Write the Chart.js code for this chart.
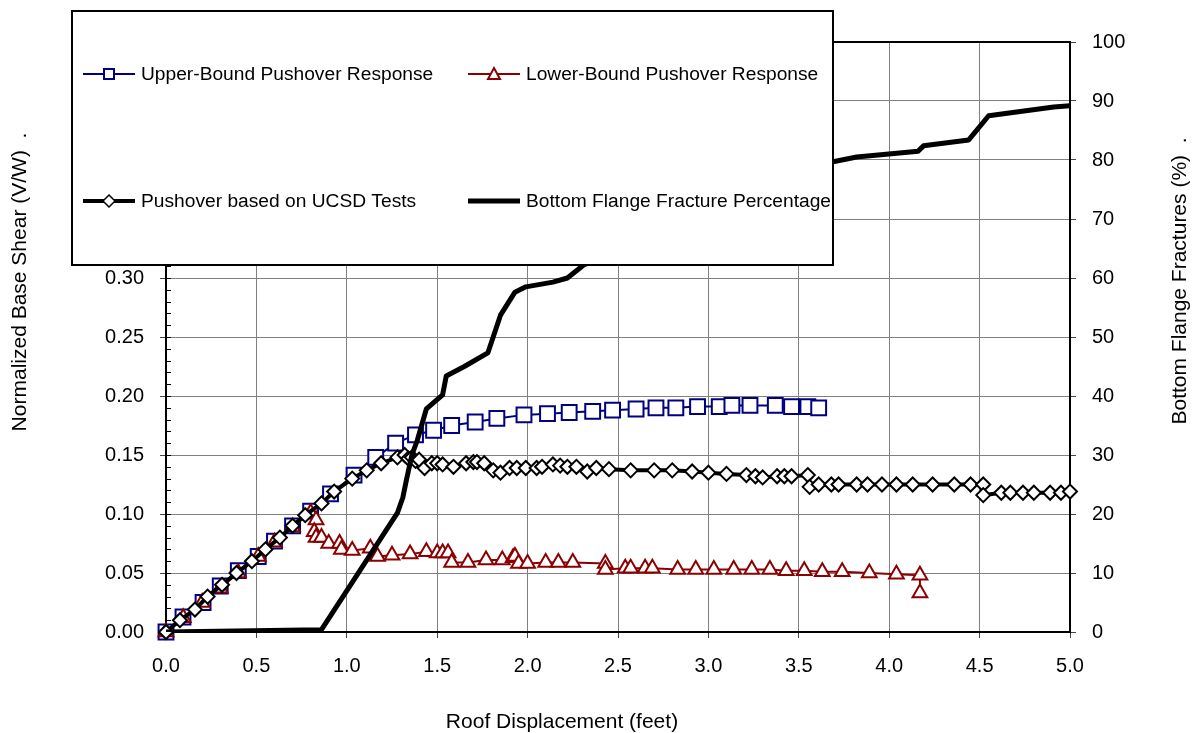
<!DOCTYPE html>
<html>
<head>
<meta charset="utf-8">
<script src="https://cdn.jsdelivr.net/npm/chart.js@4.4.0/dist/chart.umd.min.js"></script>
<style>
  html, body { margin: 0; padding: 0; background: #fff; }
  #chart { display: block; }
</style>
</head>
<body>
<canvas id="chart" width="1193" height="733"></canvas>
<script>
// roof displacement (ft) / normalized base shear (V/W)
const upperX = [0, 0.094, 0.205, 0.30, 0.40, 0.51, 0.60, 0.70, 0.80, 0.91, 1.04, 1.16, 1.27, 1.38, 1.48, 1.58, 1.71, 1.83, 1.98, 2.11, 2.23, 2.36, 2.47, 2.60, 2.71, 2.82, 2.94, 3.06, 3.13, 3.23, 3.37, 3.46, 3.55, 3.61];
const upperY = [0, 0.0127, 0.025, 0.039, 0.052, 0.064, 0.077, 0.090, 0.1025, 0.117, 0.133, 0.148, 0.160, 0.167, 0.171, 0.175, 0.178, 0.181, 0.184, 0.185, 0.186, 0.187, 0.188, 0.189, 0.190, 0.190, 0.191, 0.191, 0.192, 0.192, 0.192, 0.191, 0.191, 0.190];

const lowerX = [0, 0.095, 0.20, 0.30, 0.40, 0.51, 0.60, 0.70, 0.80, 0.83, 0.82, 0.83, 0.86, 0.90, 0.96, 0.97, 1.03, 1.13, 1.17, 1.25, 1.35, 1.44, 1.50, 1.53, 1.56, 1.58, 1.67, 1.77, 1.86, 1.92, 1.93, 1.95, 2.00, 2.10, 2.17, 2.25, 2.43, 2.43, 2.54, 2.57, 2.65, 2.69, 2.83, 2.93, 3.03, 3.14, 3.24, 3.34, 3.43, 3.53, 3.63, 3.74, 3.89, 4.04, 4.17, 4.17];
const lowerY = [0, 0.012, 0.025, 0.037, 0.050, 0.064, 0.076, 0.089, 0.101, 0.095, 0.085, 0.080, 0.080, 0.075, 0.075, 0.070, 0.069, 0.071, 0.064, 0.065, 0.066, 0.068, 0.067, 0.067, 0.067, 0.059, 0.059, 0.061, 0.061, 0.063, 0.064, 0.058, 0.058, 0.059, 0.059, 0.059, 0.058, 0.053, 0.054, 0.054, 0.054, 0.054, 0.053, 0.053, 0.053, 0.053, 0.053, 0.053, 0.052, 0.052, 0.051, 0.051, 0.050, 0.049, 0.048, 0.033];

const ucsdX = [0, 0.077, 0.16, 0.23, 0.31, 0.39, 0.475, 0.55, 0.63, 0.70, 0.77, 0.86, 0.93, 1.03, 1.11, 1.19, 1.28, 1.32, 1.34, 1.36, 1.38, 1.40, 1.43, 1.47, 1.50, 1.53, 1.59, 1.66, 1.70, 1.72, 1.76, 1.81, 1.85, 1.90, 1.94, 1.99, 2.05, 2.08, 2.14, 2.18, 2.22, 2.27, 2.33, 2.38, 2.45, 2.57, 2.70, 2.80, 2.91, 3.00, 3.10, 3.21, 3.26, 3.30, 3.38, 3.42, 3.46, 3.55, 3.56, 3.61, 3.68, 3.72, 3.82, 3.88, 3.96, 4.04, 4.13, 4.24, 4.36, 4.45, 4.52, 4.52, 4.62, 4.67, 4.74, 4.80, 4.89, 4.95, 5.00];
const ucsdY = [0, 0.010, 0.019, 0.030, 0.040, 0.050, 0.060, 0.070, 0.080, 0.090, 0.099, 0.109, 0.119, 0.130, 0.137, 0.143, 0.148, 0.150, 0.147, 0.148, 0.145, 0.146, 0.139, 0.143, 0.143, 0.142, 0.140, 0.143, 0.144, 0.144, 0.143, 0.137, 0.135, 0.139, 0.139, 0.139, 0.139, 0.140, 0.142, 0.141, 0.140, 0.140, 0.136, 0.139, 0.138, 0.137, 0.137, 0.137, 0.136, 0.135, 0.134, 0.133, 0.132, 0.131, 0.132, 0.132, 0.132, 0.133, 0.123, 0.125, 0.125, 0.125, 0.125, 0.125, 0.125, 0.125, 0.125, 0.125, 0.125, 0.125, 0.125, 0.116, 0.118, 0.118, 0.118, 0.118, 0.118, 0.118, 0.119];

// bottom flange fractures (%)
const fractureX = [0, 0.86, 1.28, 1.31, 1.33, 1.36, 1.39, 1.44, 1.53, 1.55, 1.65, 1.78, 1.85, 1.93, 1.99, 2.14, 2.22, 2.31, 3.69, 3.82, 4.16, 4.19, 4.44, 4.55, 4.91, 5.00];
const fracturePct = [0, 0.4, 20.2, 22.8, 25.8, 30, 32.5, 37.8, 40.2, 43.4, 45, 47.3, 53.7, 57.6, 58.5, 59.3, 60, 62.2, 79.7, 80.5, 81.5, 82.4, 83.4, 87.5, 89, 89.2];

const xTickLabels = ['0.0', '0.5', '1.0', '1.5', '2.0', '2.5', '3.0', '3.5', '4.0', '4.5', '5.0'];
const shearTickLabels = ['0.00', '0.05', '0.10', '0.15', '0.20', '0.25', '0.30', '0.35', '0.40', '0.45', '0.50'];
const pctTickLabels = ['0', '10', '20', '30', '40', '50', '60', '70', '80', '90', '100'];

const FONT = "Arial, 'Liberation Sans', sans-serif";
const NAVY = '#000080';
const MAROON = '#8b0000';

function toPoints(xs, ys) {
    return xs.map((x, i) => ({ x: x, y: ys[i] }));
}

// minor ticks, frame, axis titles and the boxed legend
const decorations = {
    id: 'decorations',
    beforeDatasetsDraw(chart) {
        const ctx = chart.ctx;
        const area = chart.chartArea;
        const yScale = chart.scales.y;
        ctx.save();
        ctx.strokeStyle = '#000';
        ctx.lineWidth = 1;
        for (let v = 0; v <= 0.5001; v += 0.01) {
            const py = Math.round(yScale.getPixelForValue(v)) + 0.5;
            ctx.beginPath();
            ctx.moveTo(area.left, py);
            ctx.lineTo(area.left + 5, py);
            ctx.stroke();
        }
        ctx.lineWidth = 2;
        ctx.strokeRect(area.left, area.top, area.right - area.left, area.bottom - area.top);
        ctx.restore();
    },
    afterDraw(chart) {
        const ctx = chart.ctx;
        ctx.save();
        ctx.fillStyle = '#000';
        ctx.font = '21px ' + FONT;
        ctx.textAlign = 'center';
        ctx.textBaseline = 'middle';
        ctx.fillText('Roof Displacement (feet)', 562, 722);

        ctx.save();
        ctx.translate(20, 282);
        ctx.rotate(-Math.PI / 2);
        ctx.fillText('Normalized Base Shear (V/W)  .', 0, 0);
        ctx.restore();

        ctx.save();
        ctx.translate(1180, 281);
        ctx.rotate(-Math.PI / 2);
        ctx.fillText('Bottom Flange Fractures (%)  .', 0, 0);
        ctx.restore();

        // legend box
        ctx.fillStyle = '#fff';
        ctx.fillRect(72, 11, 761, 254);
        ctx.strokeStyle = '#000';
        ctx.lineWidth = 2;
        ctx.strokeRect(72, 11, 761, 254);

        const items = [
            { label: 'Upper-Bound Pushover Response', x: 83, y: 74, color: NAVY, width: 2, marker: 'square' },
            { label: 'Lower-Bound Pushover Response', x: 468, y: 74, color: MAROON, width: 2, marker: 'triangle' },
            { label: 'Pushover based on UCSD Tests', x: 83, y: 201, color: '#000', width: 4, marker: 'diamond' },
            { label: 'Bottom Flange Fracture Percentage', x: 468, y: 201, color: '#000', width: 5, marker: null }
        ];
        items.forEach(item => {
            ctx.strokeStyle = item.color;
            ctx.lineWidth = item.width;
            ctx.beginPath();
            ctx.moveTo(item.x, item.y);
            ctx.lineTo(item.x + 52, item.y);
            ctx.stroke();
            const cx = item.x + 26;
            const cy = item.y;
            ctx.lineWidth = 2;
            ctx.fillStyle = '#fff';
            if (item.marker === 'square') {
                ctx.beginPath();
                ctx.rect(cx - 5, cy - 5, 10, 10);
                ctx.fill();
                ctx.stroke();
            } else if (item.marker === 'triangle') {
                ctx.beginPath();
                ctx.moveTo(cx, cy - 6);
                ctx.lineTo(cx + 6, cy + 5);
                ctx.lineTo(cx - 6, cy + 5);
                ctx.closePath();
                ctx.fill();
                ctx.stroke();
            } else if (item.marker === 'diamond') {
                ctx.lineWidth = 1.5;
                ctx.beginPath();
                ctx.moveTo(cx, cy - 6);
                ctx.lineTo(cx + 6, cy);
                ctx.lineTo(cx, cy + 6);
                ctx.lineTo(cx - 6, cy);
                ctx.closePath();
                ctx.fill();
                ctx.stroke();
            }
            ctx.fillStyle = '#000';
            ctx.font = '19.2px ' + FONT;
            ctx.textAlign = 'left';
            ctx.textBaseline = 'middle';
            ctx.fillText(item.label, item.x + 58, item.y + 1);
        });
        ctx.restore();
    }
};

const ctx = document.getElementById('chart').getContext('2d');
new Chart(ctx, {
    type: 'scatter',
    data: {
        datasets: [
            {
                label: 'Upper-Bound Pushover Response',
                data: toPoints(upperX, upperY),
                yAxisID: 'y',
                showLine: true,
                borderColor: NAVY,
                borderWidth: 2,
                pointStyle: 'rect',
                pointRadius: 10.5,
                pointBorderWidth: 2,
                pointBackgroundColor: '#fff',
                pointBorderColor: NAVY,
                clip: false,
                order: 3
            },
            {
                label: 'Lower-Bound Pushover Response',
                data: toPoints(lowerX, lowerY),
                yAxisID: 'y',
                showLine: true,
                borderColor: MAROON,
                borderWidth: 2,
                pointStyle: 'triangle',
                pointRadius: 8.5,
                pointBorderWidth: 2,
                pointBackgroundColor: '#fff',
                pointBorderColor: MAROON,
                clip: false,
                order: 2
            },
            {
                label: 'Pushover based on UCSD Tests',
                data: toPoints(ucsdX, ucsdY),
                yAxisID: 'y',
                showLine: true,
                borderColor: '#000',
                borderWidth: 4,
                pointStyle: 'rectRot',
                pointRadius: 7,
                pointBorderWidth: 2,
                pointBackgroundColor: '#fff',
                pointBorderColor: '#000',
                clip: false,
                order: 1
            },
            {
                label: 'Bottom Flange Fracture Percentage',
                data: toPoints(fractureX, fracturePct),
                yAxisID: 'y1',
                showLine: true,
                borderColor: '#000',
                borderWidth: 5,
                pointRadius: 0,
                borderJoinStyle: 'round',
                order: 0
            }
        ]
    },
    options: {
        responsive: false,
        animation: false,
        devicePixelRatio: 1,
        layout: { padding: { top: 42, left: 0, right: 0, bottom: 0 } },
        plugins: {
            legend: { display: false },
            tooltip: { enabled: false }
        },
        scales: {
            x: {
                type: 'linear',
                min: 0,
                max: 5,
                afterFit(scale) { scale.height = 101; },
                afterBuildTicks(scale) {
                    scale.ticks = xTickLabels.map(t => ({ value: parseFloat(t) }));
                },
                ticks: {
                    callback: (v, i) => xTickLabels[i],
                    font: { family: FONT, size: 20 },
                    color: '#000',
                    padding: 16,
                    maxRotation: 0
                },
                grid: { color: '#808080', lineWidth: 1, tickLength: 6, tickColor: '#444' },
                border: { display: false }
            },
            y: {
                type: 'linear',
                position: 'left',
                min: 0,
                max: 0.5,
                afterFit(scale) { scale.width = 166; },
                afterBuildTicks(scale) {
                    scale.ticks = shearTickLabels.map(t => ({ value: parseFloat(t) }));
                },
                ticks: {
                    callback: (v, i) => shearTickLabels[i],
                    font: { family: FONT, size: 20 },
                    color: '#000',
                    padding: 16
                },
                grid: { color: '#808080', lineWidth: 1, tickLength: 6, tickColor: '#444' },
                border: { display: false }
            },
            y1: {
                type: 'linear',
                position: 'right',
                min: 0,
                max: 100,
                afterFit(scale) { scale.width = 123; },
                afterBuildTicks(scale) {
                    scale.ticks = pctTickLabels.map(t => ({ value: parseFloat(t) }));
                },
                ticks: {
                    callback: (v, i) => pctTickLabels[i],
                    font: { family: FONT, size: 20 },
                    color: '#000',
                    padding: 16
                },
                grid: { drawOnChartArea: false, tickLength: 6, tickColor: '#444' },
                border: { display: false }
            }
        }
    },
    plugins: [decorations]
});
</script>
</body>
</html>
